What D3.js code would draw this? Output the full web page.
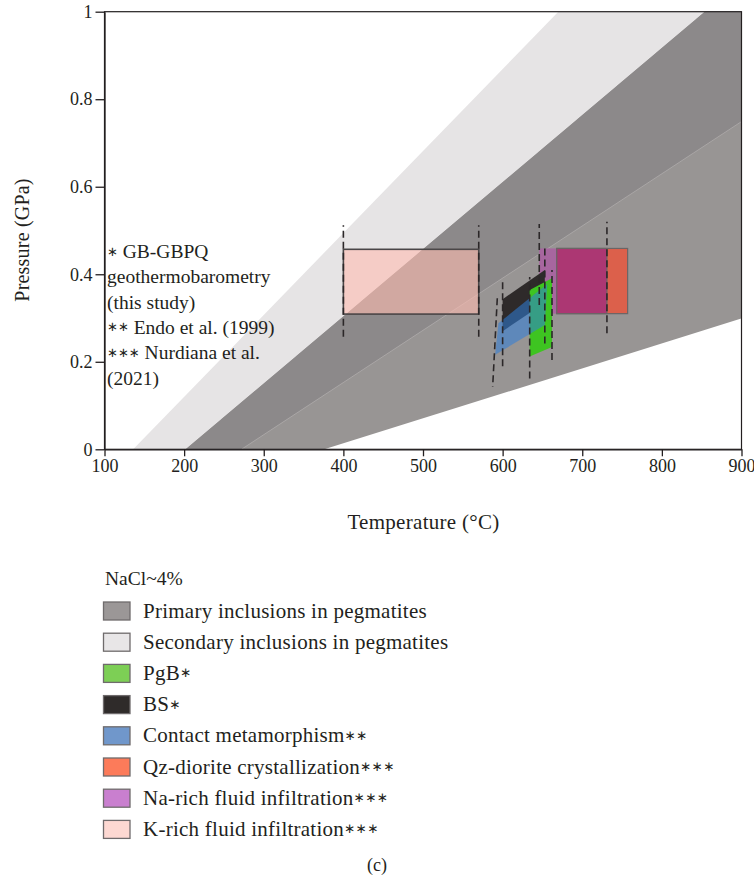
<!DOCTYPE html>
<html>
<head>
<meta charset="utf-8">
<script src="https://cdn.jsdelivr.net/npm/d3@7"></script>
<style>
  html, body { margin: 0; padding: 0; background: #fff; }
  svg text { font-family: "Liberation Serif", "Times New Roman", serif; fill: #231f20; }
</style>
</head>
<body>
<svg id="chart" width="754" height="879"></svg>
<script>
// ---- axes ----
const tempTicks = [100, 200, 300, 400, 500, 600, 700, 800, 900];
const pressTicks = [0, 0.2, 0.4, 0.6, 0.8, 1];

// ---- isochores, each as two [T (°C), P (GPa)] points ----
const isoA = [[136, 0], [670, 1]];     // upper edge of secondary inclusions
const isoB = [[202, 0], [854, 1]];     // upper edge of primary inclusions
const isoC = [[272, 0], [900, 0.749]]; // lower edge of secondary inclusions
const isoD = [[376, 0], [900, 0.299]]; // lower edge of primary inclusions

// ---- P–T boxes: temperature range and pressure range ----
const kRichT = [400, 570], kRichP = [0.309, 0.457];
const naRichT = [646, 731], naRichP = [0.31, 0.459];
const qzDioriteT = [668, 757], qzDioriteP = [0.31, 0.459];

// ---- P–T fields bounded by isochores: [T, P] corners ----
const bsField = [[600, 0.27], [600, 0.343], [653, 0.41], [653, 0.335]];
const pgbField = [[634, 0.212], [634, 0.364], [662, 0.391], [662, 0.234]];
const contactField = [[590.6, 0.216], [594.7, 0.288], [656, 0.378], [653, 0.284]];

// ---- temperature limits, dashed: [T1, P1, T2, P2] ----
const limitLines = [
  [400, 0.257, 400, 0.512],
  [570, 0.257, 570, 0.512],
  [593.3, 0.345, 587.5, 0.143],
  [600, 0.19, 600, 0.39],
  [634, 0.162, 634, 0.394],
  [646, 0.33, 646, 0.515],
  [653, 0.242, 653, 0.459],
  [662, 0.204, 662, 0.41],
  [731, 0.265, 731, 0.52]
];

// ---- notes and legend ----
const noteLines = ["\u2217 GB-GBPQ", "geothermobarometry", "(this study)",
  "\u2217\u2217 Endo et al. (1999)", "\u2217\u2217\u2217 Nurdiana et al.", "(2021)"];
const legendTitle = "NaCl~4%";
const legendLabels = ["Primary inclusions in pegmatites", "Secondary inclusions in pegmatites",
  "PgB\u2217", "BS\u2217", "Contact metamorphism\u2217\u2217", "Qz-diorite crystallization\u2217\u2217\u2217",
  "Na-rich fluid infiltration\u2217\u2217\u2217", "K-rich fluid infiltration\u2217\u2217\u2217"];
const legendColors = ["#9b9797", "#e8e6e7", "#7dcf55", "#2f2b2a", "#7097cb", "#fc7b5a", "#c97fcf", "#fdd8d2"];

const svg = d3.select("#chart");
const x = d3.scaleLinear().domain([100, 900]).range([104.5, 741.5]);
const y = d3.scaleLinear().domain([0, 1]).range([449.3, 11.7]);

svg.append("defs").append("clipPath").attr("id", "plot-clip")
  .append("rect")
  .attr("x", x(100)).attr("y", y(1))
  .attr("width", x(900) - x(100)).attr("height", y(0) - y(1));

const plot = svg.append("g").attr("clip-path", "url(#plot-clip)");

// temperature on an isochore at a given pressure
const tOn = (iso, p) => iso[0][0] + (iso[1][0] - iso[0][0]) * (p - iso[0][1]) / (iso[1][1] - iso[0][1]);
const pTop = 3;
const band = (upper, lower) => [
  [tOn(upper, 0), 0], [tOn(upper, pTop), pTop], [tOn(lower, pTop), pTop], [tOn(lower, 0), 0]
];
const line = d3.line().x(d => x(d[0])).y(d => y(d[1]));
const poly = pts => line(pts) + "Z";

// secondary inclusions, primary inclusions, and their overlap
plot.append("path").attr("d", poly(band(isoA, isoC))).attr("fill", "#e6e4e5");
plot.append("path").attr("d", poly(band(isoB, isoD))).attr("fill", "#989594");
plot.append("path").attr("d", poly(band(isoB, isoC))).attr("fill", "#8c898a");
plot.append("path").attr("d", line([[tOn(isoC, 0), 0], [tOn(isoC, pTop), pTop]]))
  .attr("stroke", "#b9b6b6").attr("stroke-width", 0.6).attr("fill", "none");

// boxes
const boxRect = (t, p) => ({ x: x(t[0]), y: y(p[1]), w: x(t[1]) - x(t[0]), h: y(p[0]) - y(p[1]) });
function drawBox(t, p, fill, opts) {
  const r = boxRect(t, p);
  const el = plot.append("rect").attr("x", r.x).attr("y", r.y).attr("width", r.w).attr("height", r.h)
    .attr("fill", fill);
  if (opts && opts.opacity != null) el.attr("fill-opacity", opts.opacity);
  if (opts && opts.stroke) el.attr("stroke", opts.stroke).attr("stroke-width", opts.sw || 1);
  return el;
}
drawBox(kRichT, kRichP, "#ffbcb1", { opacity: 0.6, stroke: "#4a4647", sw: 1.6 });
drawBox(naRichT, naRichP, "#a7669f");
drawBox(qzDioriteT, qzDioriteP, "#dc604b", { stroke: "#6b6566", sw: 1.2 });
// overlap of Na-rich fluid infiltration and Qz-diorite crystallization
const ovT = [Math.max(naRichT[0], qzDioriteT[0]), Math.min(naRichT[1], qzDioriteT[1])];
const ovP = [Math.max(naRichP[0], qzDioriteP[0]), Math.min(naRichP[1], qzDioriteP[1])];
drawBox(ovT, ovP, "#ac3773", { stroke: "#6b6566", sw: 1.2 });

// isochore-bounded fields
plot.append("path").attr("d", poly(bsField)).attr("fill", "#2e2a2a");
plot.append("path").attr("d", poly(pgbField)).attr("fill", "#3ec421");
plot.append("path").attr("d", poly(contactField)).attr("fill", "#2f7ed8").attr("fill-opacity", 0.55);

// dashed temperature limits
plot.selectAll("line.limit").data(limitLines).enter().append("line")
  .attr("class", "limit")
  .attr("x1", d => x(d[0])).attr("y1", d => y(d[1]))
  .attr("x2", d => x(d[2])).attr("y2", d => y(d[3]))
  .attr("stroke", "#2b2728").attr("stroke-width", 1.6).attr("stroke-dasharray", "7,4");

// frame
svg.append("rect").attr("x", x(100)).attr("y", y(1))
  .attr("width", x(900) - x(100)).attr("height", y(0) - y(1))
  .attr("fill", "none").attr("stroke", "#231f20").attr("stroke-width", 1.2);

// axes
const fmt = d3.format("~g");
const yAxis = svg.append("g").attr("transform", `translate(${x(100)},0)`)
  .call(d3.axisLeft(y).tickValues(pressTicks).tickFormat(fmt).tickSize(9).tickSizeOuter(0).tickPadding(3));
const xAxis = svg.append("g").attr("transform", `translate(0,${y(0)})`)
  .call(d3.axisBottom(x).tickValues(tempTicks).tickFormat(fmt).tickSize(7).tickSizeOuter(0).tickPadding(3));
[xAxis, yAxis].forEach(a => {
  a.selectAll("path, line").attr("stroke", "#231f20").attr("stroke-width", 1.3);
  a.selectAll("text").style("font-family", "Liberation Serif, serif").style("font-size", "18px").attr("fill", "#231f20");
});

// text with small asterisks raised to mid x-height
function richText(sel, str, starSize) {
  const parts = str.match(/\u2217+|[^\u2217]+/g);
  let raised = false;
  parts.forEach(p => {
    const ts = sel.append("tspan").text(p);
    if (p[0] === "\u2217") {
      ts.style("font-size", starSize + "px").style("font-family", "DejaVu Sans, sans-serif").attr("dy", -2.5);
      raised = true;
    } else if (raised) {
      ts.attr("dy", 2.5);
      raised = false;
    }
  });
}

// axis titles
svg.append("text").attr("x", 423.5).attr("y", 529).attr("text-anchor", "middle")
  .style("font-size", "21px").style("letter-spacing", "0.3px").text("Temperature (°C)");
svg.append("text").attr("transform", "translate(29,240) rotate(-90)").attr("text-anchor", "middle")
  .style("font-size", "20px").style("letter-spacing", "0.2px").text("Pressure (GPa)");

// notes
svg.append("g").selectAll("text").data(noteLines).enter().append("text")
  .attr("x", 107).attr("y", (d, i) => 258 + i * 25.3)
  .style("font-size", "19.5px")
  .each(function (d) { richText(d3.select(this), d, 13); });

// legend
const lg = svg.append("g");
lg.append("text").attr("x", 105).attr("y", 585).style("font-size", "19.5px").text(legendTitle);
const rows = lg.selectAll("g.row").data(legendLabels).enter().append("g").attr("class", "row")
  .attr("transform", (d, i) => `translate(0,${611 + i * 31.2})`);
rows.append("rect").attr("x", 103.5).attr("y", -9).attr("width", 26.5).attr("height", 18)
  .attr("fill", (d, i) => legendColors[i]).attr("stroke", "#6f6b6c").attr("stroke-width", 1.3);
rows.append("text").attr("x", 143).attr("y", 6.5).style("font-size", "21px").style("letter-spacing", "0.25px")
  .each(function (d) { richText(d3.select(this), d, 13.5); });

// panel label
svg.append("text").attr("x", 377).attr("y", 871).attr("text-anchor", "middle")
  .style("font-size", "18px").text("(c)");
</script>
</body>
</html>
